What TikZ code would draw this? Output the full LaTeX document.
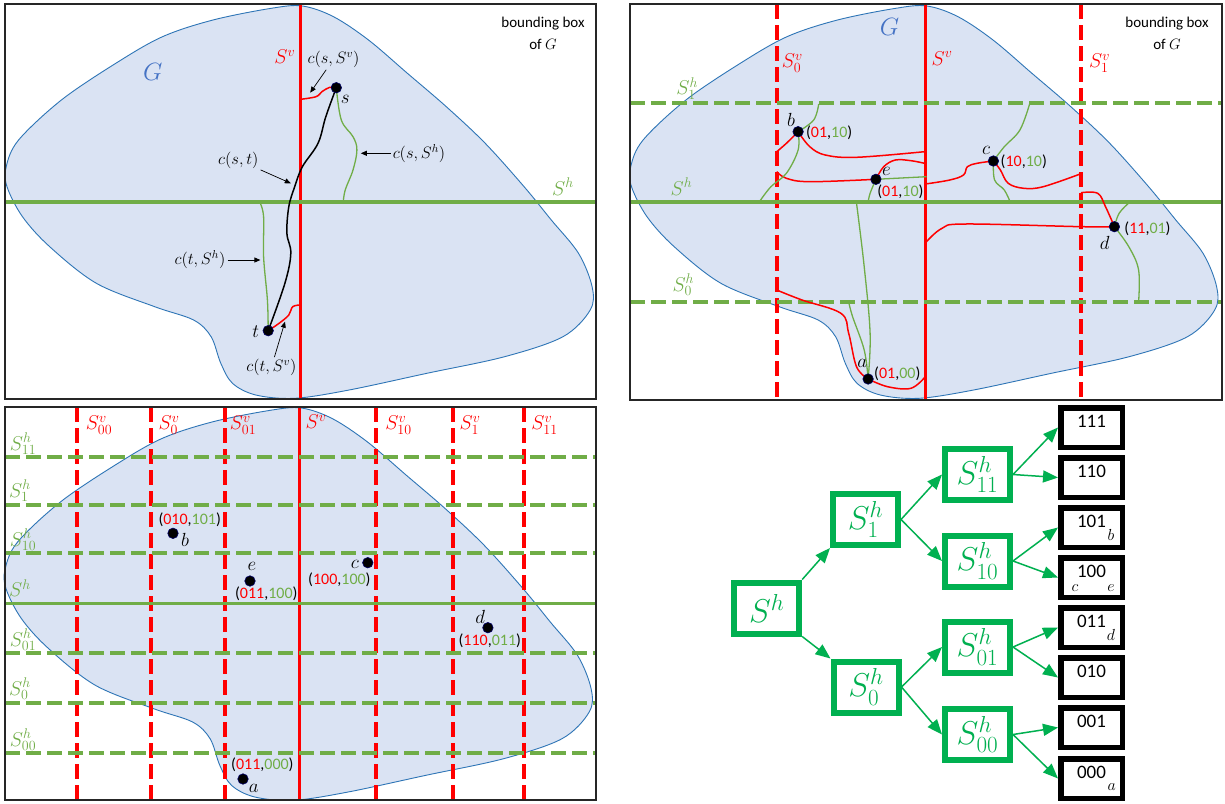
\RequirePackage{fix-cm}
\documentclass[tikz,border=0pt]{standalone}
\usepackage[no-math]{fontspec}
\setmainfont{Carlito}
\usetikzlibrary{arrows.meta}
\definecolor{rd}{HTML}{FF0000}
\definecolor{gl}{HTML}{70AD47}
\definecolor{gt}{HTML}{00B050}
\definecolor{bfill}{HTML}{DAE3F3}
\definecolor{bline}{HTML}{2E75B6}
\definecolor{gblue}{HTML}{4472C4}
\newcommand\pcode[2]{(\textcolor{rd}{#1},\textcolor{gl}{#2})}
\newcommand\blobshape[1]{\path[blob,shift={#1}] plot[smooth cycle, tension=0.55] coordinates {(302.4,6) (271.3,8.3) (213,20) (162.5,36.7) (115.8,63.3) (61.4,100) (18.6,140) (6.2,166.7) (7,186.7) (22.5,216.7) (49.7,246.7) (96.4,283.3) (154.7,306.7) (193.6,320) (211.1,336.7) (220.8,363.3) (232.5,383.3) (255.8,395) (294.7,398.3) (349.1,390) (426.9,373.3) (504.6,356.7) (563,336.7) (590.2,310) (592.1,286.7) (578.5,253.3) (551.3,220) (524.1,186.7) (485.2,143.3) (446.3,106.7) (407.4,73.3) (368.5,40) (333.5,16.7)};}
\tikzset{
  frame/.style={draw=black!85, line width=1.3pt},
  blob/.style={fill=bfill, draw=bline, line width=0.9pt},
  svsolid/.style={draw=rd, line width=3.5pt},
  shsolid/.style={draw=gl, line width=3.5pt},
  svdash/.style={draw=rd, line width=4pt, dash pattern=on 15pt off 6pt},
  shdash/.style={draw=gl, line width=4pt, dash pattern=on 15pt off 6pt},
  rcurve/.style={draw=rd, line width=1.5pt},
  gcurve/.style={draw=gl, line width=1.3pt},
  kcurve/.style={draw=black, line width=1.5pt},
  dotpt/.style={circle, fill=black, draw=black!60!blue, line width=0.6pt, inner sep=0pt, minimum size=10.5pt},
  ptname/.style={font=\fontsize{19}{19}\selectfont, inner sep=0pt},
  code/.style={font=\fontsize{16}{16}\selectfont, inner sep=0pt},
  clab/.style={font=\fontsize{16.5}{16.5}\selectfont, inner sep=2pt},
  slab/.style={font=\fontsize{20}{20}\selectfont, inner sep=0pt},
  bbox/.style={font=\fontsize{15}{22}\selectfont, align=center, inner sep=0pt},
  glab/.style={font=\fontsize{25}{25}\selectfont, text=gblue, inner sep=0pt},
  thinarrow/.style={draw=black, line width=0.7pt, -{Triangle[length=6pt,width=5pt]}},
  tbox/.style={draw=gt, line width=6pt, minimum width=65pt, minimum height=51pt, inner sep=0pt, text=gt, font=\fontsize{33}{33}\selectfont},
  leaf/.style={draw=black, line width=5.5pt, minimum width=61.5pt, minimum height=39.5pt, inner sep=0pt},
  leafnum/.style={font=\fontsize{19}{19}\selectfont, inner sep=0pt},
  leafsub/.style={font=\fontsize{16}{16}\selectfont, inner sep=0pt},
  tarrow/.style={draw=gt, line width=1.5pt, -{Triangle[length=15pt,width=12pt]}},
}
\begin{document}
\begin{tikzpicture}[x=1pt,y=-1pt]
\useasboundingbox (0,0) rectangle (1225,803);
\fill[white] (0,0) rectangle (1225,803);

% ================= TOP-LEFT PANEL =================
\blobshape{(0,0)}
\draw[svsolid] (300.5,4) -- (300.5,399);
\draw[shsolid] (5,202) -- (596,202);
\coordinate (s) at (336.3,87.7);
\coordinate (t) at (268.2,330.7);
\draw[kcurve] plot[smooth,tension=0.6] coordinates {(s) (325.8,116.7) (318,143.3) (302.4,166.7) (294.7,186.7) (288.8,206.7) (286.9,233.3) (290.8,253.3) (284.9,283.3) (t)};
\draw[rcurve] plot[smooth,tension=0.6] coordinates {(300.5,99.3) (316,96.7) (321.9,91.7) (329.7,87.3) (s)};
\draw[rcurve] plot[smooth,tension=0.6] coordinates {(t) (279.1,323.3) (288.8,315) (292.7,306.7) (300.5,305)};
\draw[gcurve] plot[smooth,tension=0.6] coordinates {(s) (341.3,120) (353,136.7) (356.9,150) (353,170) (345.2,190) (343.3,202)};
\draw[gcurve] plot[smooth,tension=0.6] coordinates {(t) (267.4,300) (263.6,256.7) (263.6,216.7) (259.7,202)};
\node[dotpt] (sdot) at (s) {};
\node[dotpt] (tdot) at (t) {};
\node[ptname] (sname) at (345.2,99) {$s$};
\node[ptname] (tname) at (255.8,331.7) {$t$};
\node[slab, text=rd] (svlab) at (284.9,56.7) {$S^v$};
\node[slab, text=gl] (shlab) at (563,186.7) {$S^h$};
\node[glab] (Glab) at (152.7,71.7) {$G$};
\node[bbox] (bb1) at (543,33) {bounding box\\of $G$};
\node[clab] (cssv) at (333.5,59.3) {$c(s,S^v)$};
\node[clab] (cssh) at (419,153.3) {$c(s,S^h)$};
\node[clab] (cst) at (238.3,160) {$c(s,t)$};
\node[clab] (ctsh) at (200,260) {$c(t,S^h)$};
\node[clab] (ctsv) at (271.3,367.5) {$c(t,S^v)$};
\coordinate (cssvE) at (310.2,92.7);
\coordinate (csshE) at (360.8,153.3);
\coordinate (cstE) at (290.8,183.3);
\coordinate (ctshE) at (260.4,260);
\coordinate (ctsvE) at (285,321.7);
\draw[thinarrow] (cssv) -- (cssvE);
\draw[thinarrow] (cssh) -- (csshE);
\draw[thinarrow] (cst) -- (cstE);
\draw[thinarrow] (ctsh) -- (ctshE);
\draw[thinarrow] (ctsv) -- (ctsvE);
\draw[frame] (5,4) rectangle (596,399);

% ================= TOP-RIGHT PANEL =================
\blobshape{(624.5,0)}
\draw[svdash] (776.7,4) -- (776.7,400);
\draw[svsolid] (925.3,4) -- (925.3,400);
\draw[svdash] (1081,4) -- (1081,400);
\draw[shdash] (630,103.3) -- (1222,103.3);
\draw[shsolid] (630,202) -- (1222,202);
\draw[shdash] (630,302) -- (1222,302);
\coordinate (b2) at (798.1,131.7);
\coordinate (e2) at (875.9,179.3);
\coordinate (c2) at (993.4,161);
\coordinate (d2) at (1114.4,226.7);
\coordinate (a2) at (868.1,379);
% red
\draw[rcurve] plot[smooth,tension=0.6] coordinates {(776.7,151.7) (786.4,143.3) (b2)};
\draw[rcurve] plot[smooth,tension=0.6] coordinates {(b2) (809.8,146.7) (825.3,155) (856.5,157.3) (924.5,151.7)};
\draw[rcurve] plot[smooth,tension=0.6] coordinates {(776.7,171.7) (786.4,178.3) (809.8,181.7) (e2)};
\draw[rcurve] plot[smooth,tension=0.6] coordinates {(e2) (883.7,166.7) (895.4,160) (911,160.7) (924.5,163.3)};
\draw[rcurve] plot[smooth,tension=0.6] coordinates {(925.3,184) (949.8,180) (963.5,175) (967.4,166.7) (977.1,163.3) (c2)};
\draw[rcurve] plot[smooth,tension=0.6] coordinates {(c2) (1000.4,170) (1008.2,183.3) (1023.8,188.3) (1043.2,186.7) (1080.2,174)};
\draw[rcurve] plot[smooth,tension=0.6] coordinates {(1081,192.7) (1097.7,193.3) (1105.5,206.7) (d2)};
\draw[rcurve] plot[smooth,tension=0.6] coordinates {(d2) (1082.1,226.7) (965.4,224) (942.1,228.3) (926.5,241.7)};
\draw[rcurve] plot[smooth,tension=0.6] coordinates {(776.7,290) (802,300) (840.9,313.3) (848.7,333.3) (856.5,366.7) (a2)};
\draw[rcurve] plot[smooth,tension=0.6] coordinates {(a2) (887.6,386.7) (910.9,388.3) (925.3,376.7)};
% green
\draw[gcurve] plot[smooth,tension=0.6] coordinates {(b2) (813.7,120) (818.7,104)};
\draw[gcurve] plot[smooth,tension=0.6] coordinates {(b2) (798.1,150) (786.4,173.3) (770.9,186.7) (759.2,202)};
\draw[gcurve] plot[smooth,tension=0.6] coordinates {(e2) (926.5,176.7)};
\draw[gcurve] plot[smooth,tension=0.6] coordinates {(e2) (870.1,193.3) (868.1,202)};
\draw[gcurve] plot[smooth,tension=0.6] coordinates {(c2) (1004.3,146.7) (1019.9,130) (1029.6,104)};
\draw[gcurve] plot[smooth,tension=0.6] coordinates {(c2) (994.6,180) (1004.3,190) (1010.2,202)};
\draw[gcurve] plot[smooth,tension=0.6] coordinates {(d2) (1119.1,213.3) (1128.8,203)};
\draw[gcurve] plot[smooth,tension=0.6] coordinates {(d2) (1128.8,246.7) (1138.6,270) (1138.6,302)};
\draw[gcurve] plot[smooth,tension=0.6] coordinates {(a2) (870.1,333.3) (864.2,266.7) (856.5,203)};
\draw[gcurve] plot[smooth,tension=0.6] coordinates {(a2) (864.2,350) (852.6,316.7) (848.7,302)};
\node[dotpt] (b2dot) at (b2) {};
\node[dotpt] (e2dot) at (e2) {};
\node[dotpt] (c2dot) at (c2) {};
\node[dotpt] (d2dot) at (d2) {};
\node[dotpt] (a2dot) at (a2) {};
\node[ptname] (b2n) at (791,120) {$b$};
\node[ptname] (e2n) at (886.4,171.7) {$e$};
\node[ptname] (c2n) at (986,150.7) {$c$};
\node[ptname] (d2n) at (1104.7,243.3) {$d$};
\node[ptname] (a2n) at (862.3,363.3) {$a$};
\node[code] (b2c) at (829.2,132.3) {\pcode{01}{10}};
\node[code] (e2c) at (900.4,191.7) {\pcode{01}{10}};
\node[code] (c2c) at (1023.8,161.7) {\pcode{10}{10}};
\node[code] (d2c) at (1147.5,228.3) {\pcode{11}{01}};
\node[code] (a2c) at (897.3,373.3) {\pcode{01}{00}};
\node[glab] (G2) at (889.5,26.7) {$G$};
\node[bbox] (bb2) at (1167,33) {bounding box\\of $G$};
\node[slab, text=rd] (s0v2) at (792.3,63.3) {$S^v_0$};
\node[slab, text=rd] (sv2) at (942,58.3) {$S^v$};
\node[slab, text=rd] (s1v2) at (1099.6,63.3) {$S^v_1$};
\node[slab, text=gl] (s1h2) at (687.2,88.3) {$S^h_1$};
\node[slab, text=gl] (sh2) at (681.4,186.7) {$S^h$};
\node[slab, text=gl] (s0h2) at (683.3,285) {$S^h_0$};
\draw[frame] (630,4) rectangle (1222,400);

% ================= BOTTOM-LEFT PANEL =================
\blobshape{(-1,402)}
\foreach \xx in {76.9,150.8,224.7,376.3,453.3,524.1} {\draw[svdash] (\xx,407) -- (\xx,800);}
\draw[svsolid] (299.5,407) -- (299.5,800);
\foreach \yy in {456.7,505,553.3,653.3,702.7,752.7} {\draw[shdash] (5,\yy) -- (596,\yy);}
\draw[shsolid] (5,603.3) -- (596,603.3);
\node[slab, text=rd] (l00v) at (99,425) {$S^v_{00}$};
\node[slab, text=rd] (l0v) at (169,425) {$S^v_{0}$};
\node[slab, text=rd] (l01v) at (243,425) {$S^v_{01}$};
\node[slab, text=rd] (lv) at (316,422) {$S^v$};
\node[slab, text=rd] (l10v) at (398.5,425) {$S^v_{10}$};
\node[slab, text=rd] (l1v) at (470,425) {$S^v_{1}$};
\node[slab, text=rd] (l11v) at (544.5,425) {$S^v_{11}$};
\node[slab, text=gl] (l11h) at (23,444) {$S^h_{11}$};
\node[slab, text=gl] (l1h) at (20,491) {$S^h_{1}$};
\node[slab, text=gl] (l10h) at (23,540) {$S^h_{10}$};
\node[slab, text=gl] (lh) at (20,588) {$S^h$};
\node[slab, text=gl] (l01h) at (23,640) {$S^h_{01}$};
\node[slab, text=gl] (l0h) at (20,689) {$S^h_{0}$};
\node[slab, text=gl] (l00h) at (23,740) {$S^h_{00}$};
\node[dotpt] (b3) at (173,533.3) {};
\node[dotpt] (e3) at (250,581) {};
\node[dotpt] (c3) at (367.8,562.7) {};
\node[dotpt] (d3) at (487.9,627.7) {};
\node[dotpt] (a3) at (243,779) {};
\node[ptname] (b3n) at (185,540) {$b$};
\node[ptname] (e3n) at (251.9,566.7) {$e$};
\node[ptname] (c3n) at (354.9,564) {$c$};
\node[ptname] (d3n) at (480.1,616.7) {$d$};
\node[ptname] (a3n) at (253.8,788.3) {$a$};
\node[code] (b3c) at (189.7,519.3) {\pcode{010}{101}};
\node[code] (e3c) at (266.3,593.3) {\pcode{011}{100}};
\node[code] (c3c) at (339.4,580) {\pcode{100}{100}};
\node[code] (d3c) at (489.8,640.7) {\pcode{110}{011}};
\node[code] (a3c) at (262.4,765) {\pcode{011}{000}};
\draw[frame] (5,407) rectangle (596,800);

% ================= TREE =================
\node[tbox] (Sh) at (766.7,608) {$S^h$};
\node[tbox] (S1) at (865.5,519.5) {$S^h_1$};
\node[tbox] (S0) at (866,687) {$S^h_0$};
\node[tbox] (S11) at (977.5,474.5) {$S^h_{11}$};
\node[tbox] (S10) at (977.5,561) {$S^h_{10}$};
\node[tbox] (S01) at (977.5,647) {$S^h_{01}$};
\node[tbox] (S00) at (977.5,734.5) {$S^h_{00}$};
\node[leaf] (L111) at (1091.5,427.5) {};
\node[leaf] (L110) at (1091.5,477.5) {};
\node[leaf] (L101) at (1091.5,527.5) {};
\node[leaf] (L100) at (1091.5,577.5) {};
\node[leaf] (L011) at (1091.5,627.5) {};
\node[leaf] (L010) at (1091.5,677.5) {};
\node[leaf] (L001) at (1091.5,727.5) {};
\node[leaf] (L000) at (1091.5,778.5) {};
\node[leafnum] (T111) at (1091.5,421) {111};
\node[leafnum] (T110) at (1091.5,471) {110};
\node[leafnum] (T101) at (1091.5,521) {101};
\node[leafnum] (T100) at (1091.5,571) {100};
\node[leafnum] (T011) at (1091.5,621) {011};
\node[leafnum] (T010) at (1091.5,671) {010};
\node[leafnum] (T001) at (1091.5,721) {001};
\node[leafnum] (T000) at (1091.5,772) {000};
\node[leafsub] (subb) at (1111,535) {$b$};
\node[leafsub] (subc) at (1075,588) {$c$};
\node[leafsub] (sube) at (1111,588) {$e$};
\node[leafsub] (subd) at (1111,635) {$d$};
\node[leafsub] (suba) at (1111.7,787) {$a$};
\draw[tarrow] (Sh.north east) -- (S1.south west);
\draw[tarrow] (Sh.south east) -- (S0.north west);
\draw[tarrow] (S1.east) -- (S11.west);
\draw[tarrow] (S1.east) -- (S10.west);
\draw[tarrow] (S0.east) -- (S01.west);
\draw[tarrow] (S0.east) -- (S00.west);
\draw[tarrow] (S11.east) -- (L111.west);
\draw[tarrow] (S11.east) -- (L110.west);
\draw[tarrow] (S10.east) -- (L101.west);
\draw[tarrow] (S10.east) -- (L100.west);
\draw[tarrow] (S01.east) -- (L011.west);
\draw[tarrow] (S01.east) -- (L010.west);
\draw[tarrow] (S00.east) -- (L001.west);
\draw[tarrow] (S00.east) -- (L000.west);
\end{tikzpicture}
\end{document}
